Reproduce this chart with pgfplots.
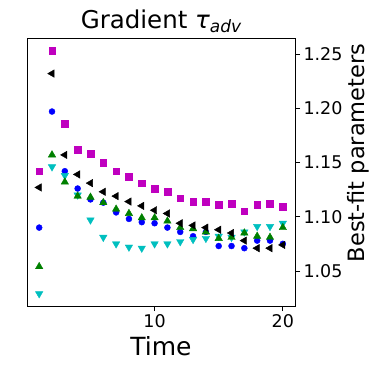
\documentclass[border=0pt]{standalone}
\usepackage{pgfplots}
\pgfplotsset{compat=1.18}
\usepackage{fontspec}
\setmainfont{DejaVu Sans}
\definecolor{mplm}{rgb}{0.75,0,0.75}
\definecolor{mplc}{rgb}{0,0.75,0.75}
\definecolor{mplg}{rgb}{0,0.5,0}
\definecolor{mplb}{rgb}{0,0,1}
\begin{document}
\begin{tikzpicture}
\path[use as bounding box] (-27pt,-68pt) rectangle (347pt,306pt);
\begin{axis}[
  at={(0,0)}, anchor=south west,
  scale only axis, width=268pt, height=268pt,
  xmin=0.05, xmax=20.95, ymin=1.0177, ymax=1.2648,
  xtick={10,20}, ytick={1.05,1.10,1.15,1.20,1.25},
  yticklabel pos=right,
  tick align=outside, major tick length=5pt,
  tick style={black, line width=0.9pt},
  axis line style={line width=0.9pt},
  xtick pos=bottom, ytick pos=right,
  /pgf/number format/assume math mode=true,
  yticklabel style={/pgf/number format/.cd, fixed, fixed zerofill, precision=2},
  ticklabel style={font=\fontsize{17.5}{17.5}\selectfont},
  title={Gradient {\itshape τ}{\fontsize{17}{17}\selectfont\itshape\raisebox{-4.5pt}{adv}}},
  title style={font=\fontsize{24.5}{24.5}\selectfont, at={(axis description cs:0.5,1)}, anchor=base, yshift=3.5pt},
  xlabel={Time},
  xlabel style={font=\fontsize{25}{25}\selectfont, at={(axis description cs:0.5,0)}, anchor=base, yshift=-49pt},
  ylabel={Best-fit parameters},
  ylabel style={font=\fontsize{22.5}{22.5}\selectfont, at={(axis description cs:1.236,0.571)}, anchor=center},
  every axis plot/.append style={only marks},
]
\addplot[mplb, mark=*, mark size=3pt, mark options={draw=mplb, fill=mplb}] coordinates {
(1,1.090) (2,1.197) (3,1.142) (4,1.126) (5,1.116) (6,1.113) (7,1.104) (8,1.098) (9,1.095) (10,1.094)
(11,1.090) (12,1.086) (13,1.082) (14,1.086) (15,1.073) (16,1.073) (17,1.071) (18,1.078) (19,1.078) (20,1.075)};
\addplot[mplc, mark=triangle*, mark size=4.3pt, mark options={rotate=180, draw=mplc, fill=mplc}] coordinates {
(1,1.029) (2,1.146) (3,1.138) (4,1.120) (5,1.097) (6,1.081) (7,1.075) (8,1.072) (9,1.071) (10,1.075)
(11,1.075) (12,1.077) (13,1.079) (14,1.080) (15,1.082) (16,1.081) (17,1.086) (18,1.091) (19,1.091) (20,1.094)};
\addplot[mplg, mark=triangle*, mark size=4.3pt, mark options={draw=mplg, fill=mplg}] coordinates {
(1,1.054) (2,1.157) (3,1.132) (4,1.119) (5,1.118) (6,1.113) (7,1.107) (8,1.103) (9,1.099) (10,1.099)
(11,1.096) (12,1.090) (13,1.089) (14,1.086) (15,1.080) (16,1.081) (17,1.085) (18,1.082) (19,1.081) (20,1.090)};
\addplot[black, mark=triangle*, mark size=4.3pt, mark options={rotate=90, draw=black, fill=black}] coordinates {
(1,1.127) (2,1.232) (3,1.157) (4,1.139) (5,1.131) (6,1.123) (7,1.119) (8,1.114) (9,1.110) (10,1.106)
(11,1.103) (12,1.094) (13,1.092) (14,1.090) (15,1.088) (16,1.085) (17,1.078) (18,1.071) (19,1.071) (20,1.074)};
\addplot[mplm, mark=square*, mark size=3.3pt, mark options={draw=mplm, fill=mplm}] coordinates {
(1,1.142) (2,1.253) (3,1.186) (4,1.162) (5,1.158) (6,1.150) (7,1.142) (8,1.137) (9,1.131) (10,1.126)
(11,1.123) (12,1.117) (13,1.114) (14,1.114) (15,1.111) (16,1.112) (17,1.105) (18,1.111) (19,1.112) (20,1.109)};
\end{axis}
\end{tikzpicture}
\end{document}
